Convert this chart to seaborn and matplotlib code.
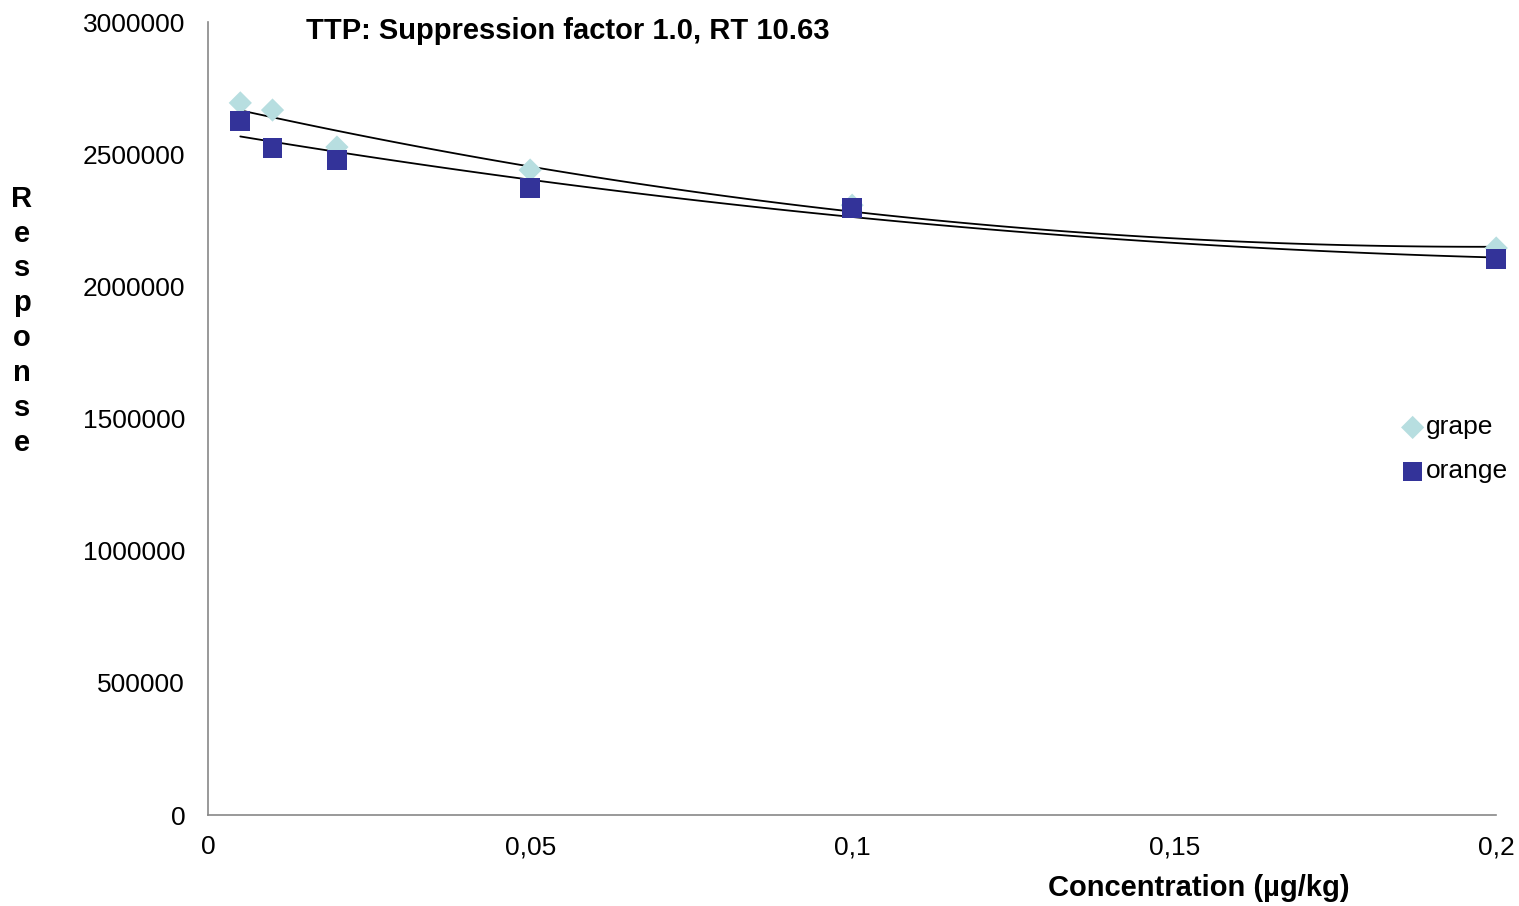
import numpy as np
import pandas as pd
import matplotlib
matplotlib.use("Agg")
import matplotlib.pyplot as plt
import seaborn as sns
from matplotlib.ticker import FuncFormatter, FixedLocator

sns.set_style("white")
plt.rcParams['font.family'] = ['Liberation Sans', 'DejaVu Sans']
plt.rcParams['text.color'] = 'black'

concentration = [0.005, 0.01, 0.02, 0.05, 0.1, 0.2]
grape = [2694000, 2667000, 2527000, 2440000, 2307000, 2145000]
orange = [2626000, 2523000, 2478000, 2372000, 2296000, 2103000]
series_names = ["grape", "orange"]
x_ticks = [0, 0.05, 0.1, 0.15, 0.2]
x_tick_labels = ["0", "0,05", "0,1", "0,15", "0,2"]
y_ticks = [0, 500000, 1000000, 1500000, 2000000, 2500000, 3000000]

df = pd.DataFrame({
    "conc": concentration * 2,
    "resp": grape + orange,
    "matrix": ["grape"] * len(grape) + ["orange"] * len(orange),
})

fig = plt.figure(figsize=(15.19, 9.06), dpi=100)
ax = fig.add_axes([0.137, 0.1004, 0.848, 0.8753])

# trendlines (2nd order polynomial)
for name in series_names:
    sub = df[df.matrix == name]
    sns.regplot(data=sub, x="conc", y="resp", order=2, ci=None, scatter=False,
                line_kws=dict(color="black", lw=1.3), ax=ax, truncate=True)

sns.scatterplot(data=df[df.matrix == "grape"], x="conc", y="resp", marker="D", s=140,
                color="#B7DEE0", edgecolor="none", ax=ax, label="grape", zorder=3,
                clip_on=False)
sns.scatterplot(data=df[df.matrix == "orange"], x="conc", y="resp", marker="s", s=200,
                color="#333399", edgecolor="none", ax=ax, label="orange", zorder=4,
                clip_on=False)

ax.set_xlim(0, 0.2)
ax.set_ylim(0, 3000000)
ax.xaxis.set_major_locator(FixedLocator(x_ticks))
ax.set_xticklabels(x_tick_labels)
ax.yaxis.set_major_locator(FixedLocator(y_ticks))
ax.yaxis.set_major_formatter(FuncFormatter(lambda v, p: f"{int(v)}"))
ax.tick_params(axis="both", labelsize=19, labelcolor="black", color="#888888",
               direction="out", length=5.5, width=1.2)
ax.tick_params(axis="y", pad=11)
ax.tick_params(axis="x", pad=9)
for s in ["top", "right"]:
    ax.spines[s].set_visible(False)
for s in ["left", "bottom"]:
    ax.spines[s].set_color("#888888")
    ax.spines[s].set_linewidth(1.2)

ax.set_xlabel("")
ax.set_ylabel("")
fig.text(0.789, 0.0199, "Concentration (µg/kg)", fontsize=21, fontweight="bold",
         ha="center", va="center")
fig.text(0.0145, 0.646, "R\ne\ns\np\no\nn\ns\ne", fontsize=21, fontweight="bold",
         ha="center", va="center", linespacing=1.31)
fig.text(0.374, 0.966, "TTP: Suppression factor 1.0, RT 10.63", fontsize=21,
         fontweight="bold", ha="center", va="center")

leg = ax.legend(loc="center left", bbox_to_anchor=(0.9213, 0.504),
                bbox_transform=fig.transFigure, frameon=False, fontsize=19,
                handletextpad=0.0, labelspacing=0.76, borderpad=0,
                borderaxespad=0, handlelength=1.0)
for t in leg.get_texts():
    t.set_color("black")

fig.savefig("out.png", dpi=100)
